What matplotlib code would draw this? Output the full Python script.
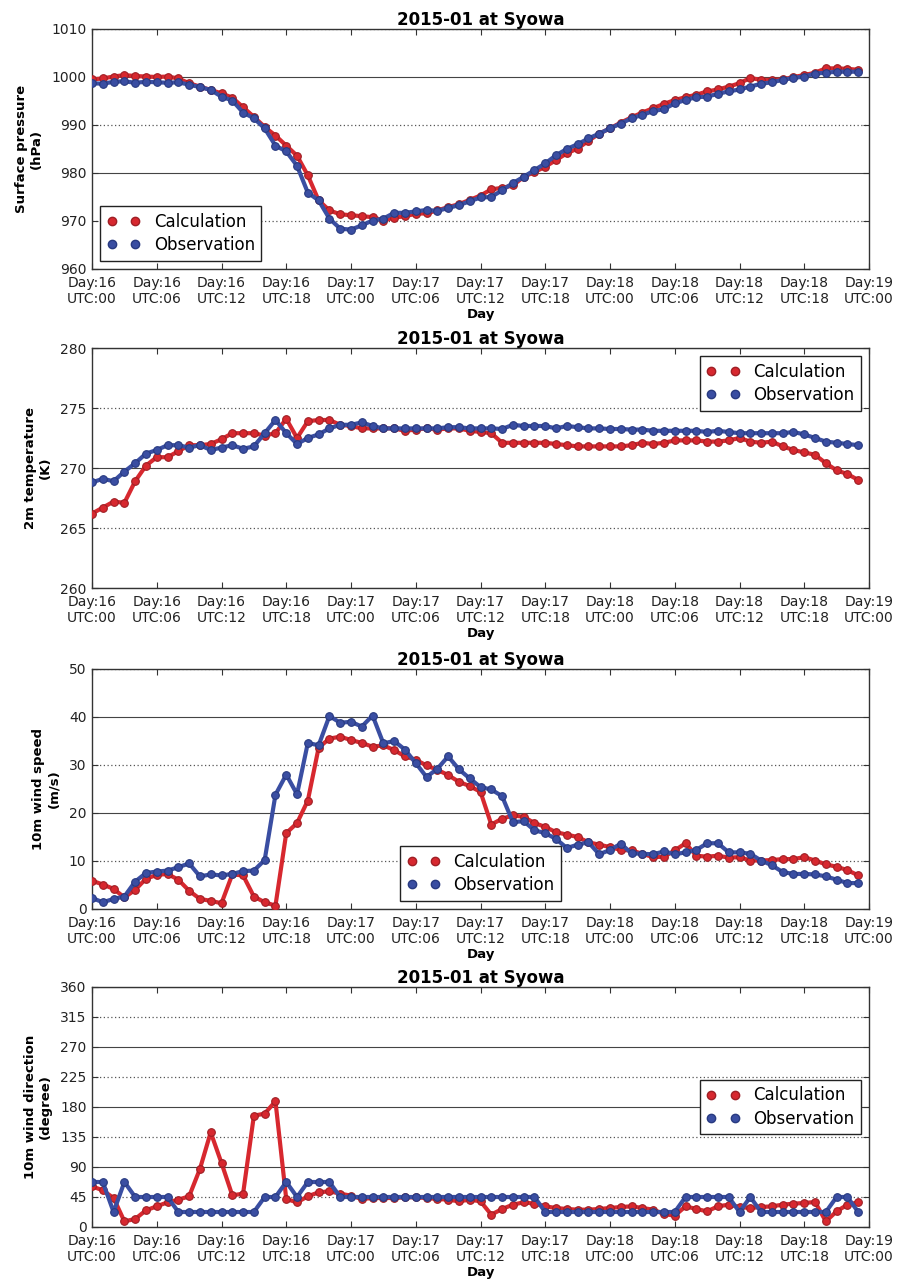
import matplotlib
matplotlib.use("Agg")
import matplotlib.pyplot as plt
from matplotlib.lines import Line2D

# Hourly samples, 2015-01-16 00 UTC onward
hours = list(range(72))

pressure_calc = [
    999.5, 999.7, 1000.1, 1000.4, 1000.2, 1000.1, 1000.0, 1000.1, 999.7, 998.7,
    998.0, 997.3, 996.6, 995.7, 993.7, 991.7, 989.6, 987.8, 985.7, 983.6,
    979.5, 974.3, 972.2, 971.4, 971.2, 971.0, 970.8, 970.1, 970.7, 971.0,
    971.5, 971.6, 972.2, 972.9, 973.5, 974.4, 975.3, 976.6, 976.9, 977.4,
    979.2, 980.2, 981.3, 982.7, 984.1, 985.1, 986.7, 988.2, 989.3, 990.5,
    991.6, 992.6, 993.5, 994.4, 995.2, 995.8, 996.3, 997.0, 997.4, 998.0,
    998.7, 999.8, 999.4, 999.4, 999.5, 1000.0, 1000.4, 1000.9, 1001.8, 1001.8,
    1001.7, 1001.5,
]
pressure_obs = [
    998.7, 998.6, 999.0, 999.1, 998.8, 999.0, 998.9, 998.8, 998.9, 998.4,
    997.9, 997.3, 995.9, 995.1, 992.6, 991.4, 989.3, 985.7, 984.5, 981.5,
    975.9, 974.3, 970.5, 968.4, 968.2, 969.1, 970.1, 970.5, 971.7, 971.7,
    972.0, 972.3, 972.1, 972.7, 973.3, 974.1, 974.9, 975.0, 976.4, 977.9,
    979.2, 980.6, 982.0, 983.7, 985.0, 986.0, 987.2, 988.2, 989.3, 990.3,
    991.4, 992.1, 992.9, 993.3, 994.5, 995.2, 995.8, 995.9, 996.5, 997.0,
    997.4, 998.0, 998.6, 998.9, 999.4, 999.8, 1000.1, 1000.7, 1000.9, 1001.1,
    1001.1, 1001.1,
]

temp_calc = [
    266.2, 266.7, 267.2, 267.1, 268.9, 270.2, 270.9, 270.9, 271.4, 271.9,
    271.9, 272.0, 272.4, 272.9, 272.9, 272.9, 272.7, 272.9, 274.1, 272.5,
    273.9, 274.0, 274.0, 273.6, 273.5, 273.3, 273.3, 273.3, 273.3, 273.1,
    273.2, 273.3, 273.2, 273.3, 273.3, 273.1, 273.0, 272.9, 272.1, 272.1,
    272.1, 272.1, 272.1, 272.0, 271.9, 271.8, 271.8, 271.8, 271.8, 271.8,
    271.9, 272.1, 272.0, 272.1, 272.3, 272.3, 272.3, 272.2, 272.2, 272.3,
    272.5, 272.2, 272.1, 272.2, 271.8, 271.5, 271.3, 271.1, 270.4, 269.8,
    269.5, 269.0,
]
temp_obs = [
    268.8, 269.1, 268.9, 269.7, 270.4, 271.2, 271.5, 271.9, 271.9, 271.7,
    271.9, 271.5, 271.7, 271.9, 271.6, 271.8, 272.9, 274.0, 272.9, 272.0,
    272.5, 272.8, 273.3, 273.6, 273.6, 273.8, 273.5, 273.3, 273.3, 273.3,
    273.3, 273.3, 273.3, 273.4, 273.4, 273.3, 273.3, 273.3, 273.25, 273.6,
    273.5, 273.5, 273.5, 273.3, 273.5, 273.4, 273.3, 273.3, 273.25, 273.25,
    273.2, 273.2, 273.1, 273.1, 273.1, 273.1, 273.1, 273.0, 273.1, 273.0,
    272.9, 272.9, 272.9, 272.9, 272.9, 273.0, 272.8, 272.5, 272.2, 272.1,
    272.0, 271.9,
]

wspd_calc = [
    5.9, 5.1, 4.2, 2.4, 4.0, 6.3, 7.1, 7.3, 6.1, 3.8,
    2.1, 1.7, 1.2, 7.2, 7.0, 2.6, 1.4, 0.7, 15.8, 17.9,
    22.6, 33.6, 35.5, 35.9, 35.2, 34.6, 33.8, 34.1, 33.1, 31.8,
    31.1, 29.9, 29.0, 27.9, 26.5, 25.6, 24.4, 17.6, 18.8, 19.5,
    19.2, 17.9, 17.1, 16.0, 15.5, 15.0, 13.9, 13.4, 12.9, 12.3,
    12.2, 11.5, 10.8, 10.9, 12.2, 13.7, 11.1, 10.9, 11.1, 10.7,
    10.8, 10.1, 10.1, 10.2, 10.4, 10.4, 10.8, 10.1, 9.3, 8.8,
    8.1, 7.0,
]
wspd_obs = [
    2.3, 1.4, 2.1, 2.6, 5.7, 7.5, 7.8, 8.0, 8.7, 9.5,
    6.8, 7.2, 7.0, 7.3, 7.9, 8.0, 10.2, 23.8, 28.0, 23.9,
    34.6, 34.1, 40.2, 38.8, 39.0, 38.0, 40.3, 34.5, 35.0, 33.2,
    30.4, 27.5, 29.2, 31.8, 29.1, 27.2, 25.4, 24.9, 23.5, 18.1,
    18.3, 16.4, 15.8, 14.6, 12.7, 13.4, 13.9, 11.4, 12.3, 13.6,
    11.6, 11.5, 11.4, 12.0, 11.4, 11.8, 12.3, 13.7, 13.7, 11.8,
    11.8, 11.5, 10.1, 9.1, 7.7, 7.3, 7.3, 7.2, 6.8, 6.1,
    5.4, 5.4,
]

wdir_calc = [
    61, 55, 43.5, 8.5, 12, 25, 31, 37, 41, 46,
    87, 142, 96, 47.5, 50, 167, 170, 188.5, 42, 37,
    46, 52, 53.5, 50, 47, 42, 43.5, 43.5, 43.5, 44.5,
    44.5, 43.5, 42, 41, 38.5, 41, 38.5, 18.5, 27, 33.5,
    37, 35, 31, 28.5, 27, 26, 26, 27, 28.5, 30,
    31, 28.5, 26, 19.5, 17, 31, 27, 23.5, 31, 33.5,
    30, 28.5, 30, 31, 33.5, 35, 36, 37.5, 8.5, 23.5,
    33.5, 37,
]
wdir_obs = [
    67.5, 67.5, 22.5, 67.5, 45, 45, 45, 45, 22.5, 22.5,
    22.5, 22.5, 22.5, 22.5, 22.5, 22.5, 45, 45, 67.5, 45,
    67.5, 67.5, 67.5, 45, 45, 45, 45, 45, 45, 45,
    45, 45, 45, 45, 45, 45, 45, 45, 45, 45,
    45, 45, 22.5, 22.5, 22.5, 22.5, 22.5, 22.5, 22.5, 22.5,
    22.5, 22.5, 22.5, 22.5, 22.5, 45, 45, 45, 45, 45,
    22.5, 45, 22.5, 22.5, 22.5, 22.5, 22.5, 22.5, 22.5, 45,
    45, 22.5,
]

tick_hours = [0, 6, 12, 18, 24, 30, 36, 42, 48, 54, 60, 66, 72]
tick_labels = [
    "Day:16\nUTC:00", "Day:16\nUTC:06", "Day:16\nUTC:12", "Day:16\nUTC:18",
    "Day:17\nUTC:00", "Day:17\nUTC:06", "Day:17\nUTC:12", "Day:17\nUTC:18",
    "Day:18\nUTC:00", "Day:18\nUTC:06", "Day:18\nUTC:12", "Day:18\nUTC:18",
    "Day:19\nUTC:00",
]

title = "2015-01 at Syowa"
series_names = ["Calculation", "Observation"]

panels = [
    (pressure_calc, pressure_obs, "Surface pressure\n(hPa)",
     [960, 970, 980, 990, 1000, 1010], "lower left"),
    (temp_calc, temp_obs, "2m temperature\n(K)",
     [260, 265, 270, 275, 280], "upper right"),
    (wspd_calc, wspd_obs, "10m wind speed\n(m/s)",
     [0, 10, 20, 30, 40, 50], "lower center"),
    (wdir_calc, wdir_obs, "10m wind direction\n(degree)",
     [0, 45, 90, 135, 180, 225, 270, 315, 360], "center right"),
]

RED = "#d7282f"
BLUE = "#3a4ea2"
RED_EDGE = "#9e1f25"
BLUE_EDGE = "#283a80"

plt.rcParams["font.family"] = ["DejaVu Sans"]

fig = plt.figure(figsize=(9.05, 12.84), dpi=100)
W, H = 905.0, 1284.0
left_px, right_px = 92, 869
tops_px = [29, 348, 669, 987]
height_px = 240

for (calc, obs, ylabel, yticks, loc), top in zip(panels, tops_px):
    ax = fig.add_axes([left_px / W, 1 - (top + height_px) / H,
                       (right_px - left_px) / W, height_px / H])
    ax.plot(hours, calc, "-o", color=RED, lw=3, ms=5.5,
            mec=RED_EDGE, mew=0.8, zorder=3)
    ax.plot(hours, obs, "-o", color=BLUE, lw=3, ms=5.5,
            mec=BLUE_EDGE, mew=0.8, zorder=4)
    ax.set_xlim(0, 72)
    ax.set_ylim(yticks[0], yticks[-1])
    ax.set_xticks(tick_hours)
    ax.set_xticklabels(tick_labels, fontsize=10, color="#222222")
    ax.set_yticks(yticks)
    ax.set_yticklabels([str(v) for v in yticks], fontsize=10, color="#222222")
    ax.tick_params(direction="in", top=True, right=True, length=4,
                   width=0.8, color="#333333")
    ax.tick_params(axis="x", pad=5)
    ax.tick_params(axis="y", pad=4)
    for sp in ax.spines.values():
        sp.set_color("#333333")
        sp.set_linewidth(1.0)
    ax.grid(True, axis="y", color="#444444", lw=0.9)
    for i, gl in enumerate(ax.get_ygridlines()):
        if i % 2 == 1:
            gl.set_linestyle((0, (1, 2)))
            gl.set_color("#555555")
        else:
            gl.set_linestyle("-")
            gl.set_linewidth(0.8)
    ax.set_axisbelow(True)
    ax.set_title(title, fontsize=12, fontweight="bold", pad=3)
    ax.set_ylabel(ylabel, fontsize=9.5, fontweight="bold", labelpad=6)
    ax.set_xlabel("Day", fontsize=9.5, fontweight="bold", labelpad=1)
    handles = [
        Line2D([], [], ls="none", marker="o", color=RED, mec=RED_EDGE, ms=6),
        Line2D([], [], ls="none", marker="o", color=BLUE, mec=BLUE_EDGE, ms=6),
    ]
    leg = ax.legend(handles, series_names, loc=loc, numpoints=2,
                    fontsize=12, fancybox=False, framealpha=1,
                    edgecolor="#222222", handlelength=2.0,
                    borderaxespad=0.5, labelspacing=0.3)
    leg.get_frame().set_linewidth(1.0)

fig.savefig("out.png", dpi=100)
